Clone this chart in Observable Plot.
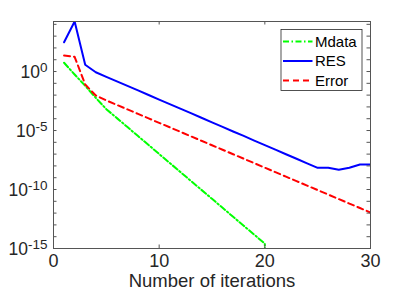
<!DOCTYPE html>
<html><head><meta charset="utf-8">
<script src="https://cdn.jsdelivr.net/npm/d3@7"></script>
<script src="https://cdn.jsdelivr.net/npm/@observablehq/plot@0.6"></script>
<style>body{margin:0;background:#fff;}</style>
</head><body><div id="chart"></div>
<script>
// ---- data (y stored as log10 exponents) ----
const iterations = [1,2,3,4,5,6,7,8,9,10,11,12,13,14,15,16,17,18,19,20,21,22,23,24,25,26,27,28,29,30];
const mdataIter = [1,2,3,4,5,6,7,8,9,10,11,12,13,14,15,16,17,18,19,20,20];
const mdataExp = [0.74,-0.25,-1.21,-2.23,-3.19,-3.95,-4.71,-5.47,-6.23,-6.99,-7.75,-8.51,-9.27,-10.03,-10.79,-11.55,-12.31,-13.07,-13.83,-14.59,-17];
const resExp = [2.48,4.24,0.57,-0.06,-0.45,-0.83,-1.22,-1.60,-1.99,-2.38,-2.76,-3.15,-3.53,-3.92,-4.31,-4.69,-5.08,-5.46,-5.85,-6.24,-6.62,-7.01,-7.39,-7.78,-8.16,-8.16,-8.33,-8.16,-7.88,-7.88];
const errorExp = [1.36,1.25,-1.1,-2.03,-2.45,-2.83,-3.21,-3.59,-3.97,-4.35,-4.73,-5.11,-5.49,-5.87,-6.25,-6.63,-7.01,-7.39,-7.77,-8.15,-8.53,-8.91,-9.29,-9.67,-10.05,-10.43,-10.81,-11.19,-11.57,-11.95];
const seriesNames = ["Mdata", "RES", "Error"];
const seriesColors = ["#00ff00", "#0000ff", "#ff0000"];
const seriesDash = ["6,2.5,1.5,2.5", null, "6,4"];
const xTicks = [0, 10, 20, 30];
const yMajorExp = [0, -5, -10, -15];
const yMinorExp = [4,3,2,1,0,-1,-2,-3,-4,-5,-6,-7,-8,-9,-10,-11,-12,-13,-14,-15];
const yTopExp = 4.24;
const xLabel = "Number of iterations";

const rows = [];
mdataIter.forEach((x, i) => rows.push({series: "Mdata", x, y: 10 ** mdataExp[i]}));
iterations.forEach((x, i) => rows.push({series: "RES", x, y: 10 ** resExp[i]}));
iterations.forEach((x, i) => rows.push({series: "Error", x, y: 10 ** errorExp[i]}));

const W = 409, H = 300, mL = 53, mR = 39, mT = 21, mB = 52;
const innerW = W - mL - mR, innerH = H - mT - mB;
const tickLen = 3.5;
const axisColor = "#555";
const textColor = "#262626";

const lineMarks = seriesNames.map((name, i) =>
  Plot.line(rows.filter(d => d.series === name), {
    x: "x", y: "y", stroke: seriesColors[i], strokeWidth: 2,
    strokeDasharray: seriesDash[i] || undefined, clip: true
  })
);

const plot = Plot.plot({
  width: W, height: H,
  marginLeft: mL, marginRight: mR, marginTop: mT, marginBottom: mB,
  style: {fontFamily: "'Liberation Sans', Arial, Helvetica, sans-serif", fontSize: "17px", background: "#fff", color: textColor},
  x: {domain: [0, 30], axis: null},
  y: {type: "log", domain: [1e-15, 10 ** yTopExp], axis: null},
  marks: [
    ...lineMarks,
    Plot.ruleX(xTicks, {x: d => d, insetTop: innerH - tickLen, stroke: axisColor}),
    Plot.ruleX(xTicks, {x: d => d, insetBottom: innerH - tickLen, stroke: axisColor}),
    Plot.ruleY(yMinorExp, {y: d => 10 ** d, insetRight: innerW - tickLen, stroke: axisColor}),
    Plot.ruleY(yMinorExp, {y: d => 10 ** d, insetLeft: innerW - tickLen, stroke: axisColor}),
    Plot.frame({stroke: axisColor}),
    Plot.text(xTicks, {x: d => d, frameAnchor: "bottom", dy: 18, text: d => String(d), fontSize: 18, fill: textColor}),
    Plot.text(yMajorExp, {y: d => 10 ** d, frameAnchor: "left", dx: -6, dy: 1, textAnchor: "end", text: d => String(d), fontSize: 17.5, fill: textColor, ariaDescription: "ylabels"}),
    Plot.text([xLabel], {frameAnchor: "bottom", dy: 38, text: d => d, fontSize: 18.5, fill: textColor})
  ]
});

const svg = d3.select(plot);
svg.selectAll('g[aria-description="ylabels"] text').each(function() {
  const e = this.textContent;
  const t = d3.select(this);
  t.text(null);
  t.append("tspan").text("10");
  t.append("tspan").attr("dy", "-0.49em").attr("font-size", "13.5px").text(e);
});

// legend
const lg = svg.append("g");
const lx = 281, ly = 29.5, lw = 81, lh = 61, rowH = 19.5;
lg.append("rect").attr("x", lx).attr("y", ly).attr("width", lw).attr("height", lh)
  .attr("fill", "#fff").attr("stroke", textColor).attr("stroke-width", 0.8);
seriesNames.forEach((name, i) => {
  const cy = ly + 12 + i * rowH;
  lg.append("line").attr("x1", lx + 2).attr("x2", lx + 31.5).attr("y1", cy).attr("y2", cy)
    .attr("stroke", seriesColors[i]).attr("stroke-width", 2)
    .attr("stroke-dasharray", seriesDash[i]);
  lg.append("text").attr("x", lx + 34).attr("y", cy).attr("dy", "0.35em")
    .attr("text-anchor", "start")
    .attr("font-size", 15).attr("fill", "#000").text(name);
});

document.getElementById("chart").appendChild(plot);
</script>
</body></html>
